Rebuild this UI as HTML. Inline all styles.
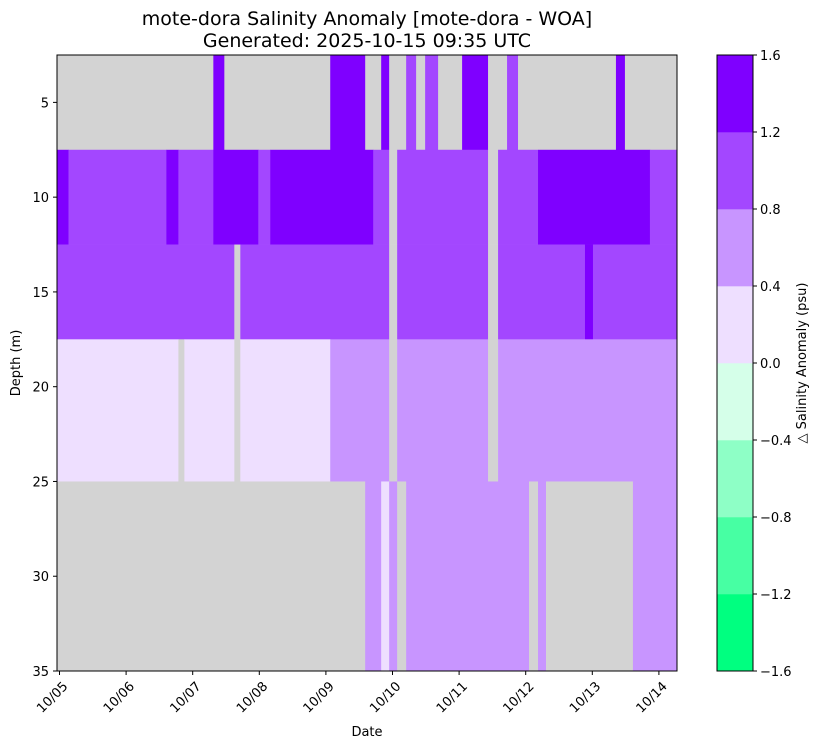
<!DOCTYPE html>
<html><head><meta charset="utf-8"><style>
body{margin:0;background:#fff;}
svg{display:block;font-family:"DejaVu Sans","Liberation Sans",sans-serif;}
</style></head><body>
<svg id="chart" width="819" height="748" viewBox="0 0 819 748">
<g id="plot"></g>
<g id="axes"></g>
<g id="cbar"></g>
<text x="367" y="25" text-anchor="middle" font-size="19">mote-dora Salinity Anomaly [mote-dora - WOA]</text>
<text x="367" y="47" text-anchor="middle" font-size="19">Generated: 2025-10-15 09:35 UTC</text>
<text x="367" y="736" text-anchor="middle" font-size="13">Date</text>
<text transform="translate(20,363) rotate(-90)" text-anchor="middle" font-size="13">Depth (m)</text>
<text transform="translate(806,363) rotate(-90)" text-anchor="middle" font-size="13">△ Salinity Anomaly (psu)</text>
</svg>
<script>
// depth bands (m)
const depthEdges = [2.5, 7.5, 12.5, 17.5, 25, 35];
// per-row segment edges (days since 10/05) and values (null = no data)
const row0Edges = [-0.03,2.31,2.475,4.065,4.59,4.83,4.95,5.205,5.355,5.49,5.685,6.045,6.435,6.72,6.885,8.355,8.49,9.27];
const row0Vals  = [null,1.4,null,1.4,null,1.4,null,1.0,null,1.0,null,1.4,null,1.0,null,1.4,null];
const row1Edges = [-0.03,0.135,1.605,1.785,2.31,2.985,3.165,4.71,4.95,5.07,6.435,6.585,7.185,8.865,9.27];
const row1Vals  = [1.4,1.0,1.4,1.0,1.4,1.0,1.4,1.0,null,1.0,null,1.0,1.4,1.0];
const row2Edges = [-0.03,2.625,2.715,4.95,5.07,6.435,6.585,7.89,8.01,9.27];
const row2Vals  = [1.0,null,1.0,null,1.0,null,1.0,1.4,1.0];
const row3Edges = [-0.03,1.785,1.875,2.625,2.715,4.065,4.95,5.07,6.435,6.585,9.27];
const row3Vals  = [0.2,null,0.2,null,0.2,0.6,null,0.6,null,0.6];
const row4Edges = [-0.03,4.59,4.83,4.95,5.07,5.205,7.05,7.185,7.305,8.61,9.27];
const row4Vals  = [null,0.6,0.2,0.6,null,0.6,null,0.6,null,0.6];
const rowEdges = [row0Edges,row1Edges,row2Edges,row3Edges,row4Edges];
const rowVals = [row0Vals,row1Vals,row2Vals,row3Vals,row4Vals];
const dateLabels = ["10/05","10/06","10/07","10/08","10/09","10/10","10/11","10/12","10/13","10/14"];
const depthTicks = [5,10,15,20,25,30,35];
const cbarTicks = [-1.6,-1.2,-0.8,-0.4,0.0,0.4,0.8,1.2,1.6];
const cbarColors = ["#00ff80","#47ffa3","#8effc6","#d5ffe9","#eedfff","#c895ff","#a347ff","#7f00ff"];

const NS="http://www.w3.org/2000/svg";
const X0=57,X1=677,Y0=55,Y1=671;
const xS=d=>59.5+d*66.6;
const yS=m=>Y0+(m-2.5)*(Y1-Y0)/32.5;
function color(v){
  if(v===null) return "#d3d3d3";
  const i=Math.min(7,Math.max(0,Math.floor((v+1.6)/0.4)));
  return cbarColors[i];
}
function el(t,a,p){const e=document.createElementNS(NS,t);for(const k in a)e.setAttribute(k,a[k]);p.appendChild(e);return e;}
const plot=document.getElementById('plot'),axes=document.getElementById('axes'),cbar=document.getElementById('cbar');
rowEdges.forEach((edges,r)=>{
  const ya=yS(depthEdges[r]),yb=yS(depthEdges[r+1]);
  rowVals[r].forEach((v,i)=>{
    const xa=Math.max(X0,xS(edges[i])),xb=Math.min(X1,xS(edges[i+1]));
    const c=el('rect',{x:xa,y:ya,width:xb-xa+0.3,height:yb-ya+0.3,fill:color(v)},plot);
    
    
  });
});
el('rect',{x:X0,y:Y0,width:X1-X0,height:Y1-Y0,fill:'none',stroke:'#000','stroke-width':1},axes);
dateLabels.forEach((l,i)=>{
  const x=xS(i);
  el('line',{x1:x,y1:Y1,x2:x,y2:Y1+4,stroke:'#000'},axes);
  const t=el('text',{transform:`translate(${x+9},${Y1+16}) rotate(-45)`,'text-anchor':'end','font-size':13},axes);
  t.textContent=l;
  
  
});
depthTicks.forEach(d=>{
  const y=yS(d);
  el('line',{x1:X0-4,y1:y,x2:X0,y2:y,stroke:'#000'},axes);
  const t=el('text',{x:X0-8,y:y+5,'text-anchor':'end','font-size':13},axes);
  t.textContent=d;
  
  
});
const CX=717,CW=36;
const cy=v=>Y1-(v+1.6)/3.2*(Y1-Y0);
cbarColors.forEach((c,i)=>{
  const r=el('rect',{x:CX,y:cy(cbarTicks[i+1]),width:CW,height:cy(cbarTicks[i])-cy(cbarTicks[i+1])+0.3,fill:c},cbar);
  
  
});
el('rect',{x:CX,y:Y0,width:CW,height:Y1-Y0,fill:'none',stroke:'#000'},cbar);
cbarTicks.forEach(v=>{
  const y=cy(v);
  el('line',{x1:CX+CW,y1:y,x2:CX+CW+4,y2:y,stroke:'#000'},cbar);
  const t=el('text',{x:CX+CW+7,y:y+5,'font-size':13},cbar);
  t.textContent=(v<0?"\u2212":"")+Math.abs(v).toFixed(1);
  
  
});
</script>
</body></html>
